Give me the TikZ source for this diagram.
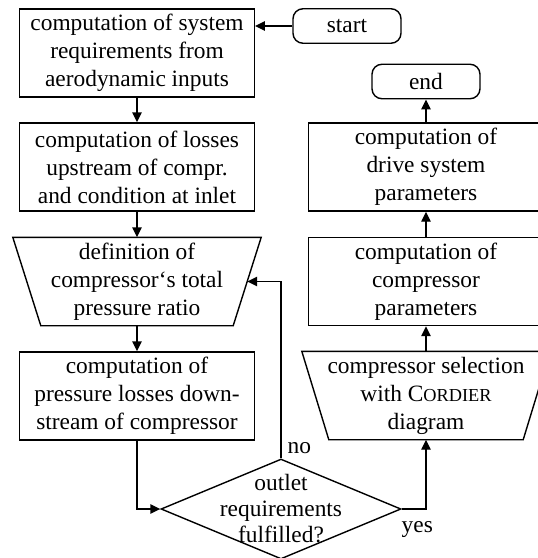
\documentclass[tikz,border=0pt]{standalone}
\usepackage{fontspec}
\setmainfont{Liberation Serif}
\usetikzlibrary{arrows.meta,shapes.geometric}
\begin{document}
\begin{tikzpicture}[x=1pt,y=-1pt,
  line width=1.4pt,
  every node/.style={font=\fontsize{23.4}{28}\selectfont},
  box/.style={draw, minimum width=234.5pt, minimum height=88pt, inner sep=0pt, align=center},
  trapbody/.style={minimum width=247pt, minimum height=87pt, inner sep=0pt, align=center},
  terminal/.style={draw, rounded corners=10pt, minimum width=108pt, minimum height=34.5pt, inner sep=0pt},
  decision/.style={draw, diamond, minimum width=240pt, minimum height=100pt, inner sep=0pt},
  flow/.style={-{Triangle[length=10pt,width=9.5pt]}},
]
\useasboundingbox (0,0) rectangle (538,558);
\clip (0,0) rectangle (538,558);

% left column
\node[box] (req) at (137,53) {computation of system\\requirements from\\aerodynamic inputs};
\node[box] (up) at (137,167) {computation of losses\\upstream of compr.\\and condition at inlet};
\node[trapbody] (def) at (137,281.5) {definition of\\compressor‘s total\\pressure ratio};
\draw (def.north west) -- (def.north east) -- ([xshift=-28pt]def.south east)
      -- ([xshift=28pt]def.south west) -- cycle;
\node[box] (down) at (137,396) {computation of\\pressure losses down-\\stream of compressor};

% terminals
\node[terminal] (start) at (347,26) {start};
\node[terminal] (end) at (426,81.5) {end};

% right column
\node[box] (drive) at (426,167) {computation of\\drive system\\parameters};
\node[box] (comp) at (426,281.5) {computation of\\compressor\\parameters};
\node[trapbody] (sel) at (426,395.5) {compressor selection\\with C{\fontsize{18.3}{28}\selectfont ORDIER}\\diagram};
\draw (sel.north west) -- (sel.north east) -- ([xshift=-27pt]sel.south east)
      -- ([xshift=27pt]sel.south west) -- cycle;

% decision
\node[decision] (dia) at (281,509) {};
\node[align=center, font=\fontsize{23.4}{26}\selectfont] (q) at (dia.center) {outlet\\requirements\\fulfilled?};
\node[anchor=base west, inner sep=0pt] (no) at (287,453.5) {no};
\node[anchor=base west, inner sep=0pt] (yes) at (401,532) {yes};

% connectors
\draw[flow] (start.west) -- (start.west -| req.east);
\draw[flow] (req.south) -- (up.north);
\draw[flow] (up.south) -- (def.north);
\draw[flow] (def.south) -- (down.north);
\draw[flow] (down.south) |- (dia.west);
\draw[flow] (dia.north) |- ([xshift=-14pt]def.east);
\draw[flow] (dia.east) -| (sel.south);
\draw[flow] (sel.north) -- (comp.south);
\draw[flow] (comp.north) -- (drive.south);
\draw[flow] (drive.north) -- (end.south);
\end{tikzpicture}
\end{document}
